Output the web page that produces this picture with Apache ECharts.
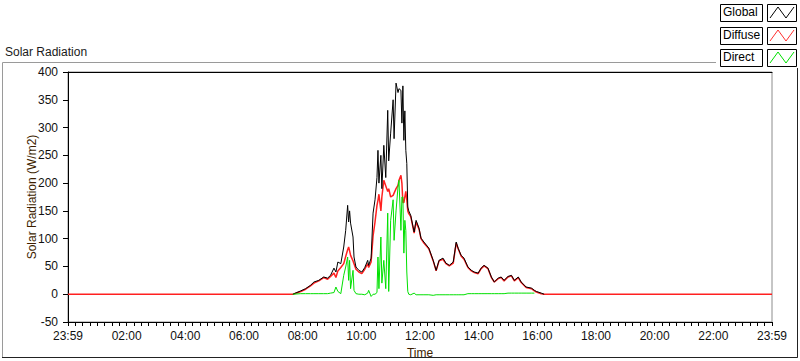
<!DOCTYPE html>
<html>
<head>
<meta charset="utf-8">
<script src="https://cdn.jsdelivr.net/npm/echarts@6/dist/echarts.min.js"></script>
<style>
  html, body { margin: 0; padding: 0; background: #fff; }
  #chart { width: 800px; height: 361px; }
</style>
</head>
<body>
<div id="chart"></div>
<script>
// sample times (one shared list for all three series)
const times = ["00:00","07:40","07:56","08:06","08:16","08:23","08:33","08:43","08:51","08:57",
  "09:04","09:08","09:12","09:18","09:24","09:28","09:32","09:34","09:36","09:38",
  "09:43","09:45","09:49","09:55","10:01","10:07","10:13","10:15","10:20","10:24",
  "10:28","10:32","10:34","10:36","10:40","10:42","10:46","10:50","10:54","10:56",
  "11:00","11:05","11:07","11:11","11:15","11:17","11:21","11:23","11:25","11:27",
  "11:29","11:31","11:33","11:35","11:37","11:41","11:48","11:52","11:58","12:02",
  "12:08","12:18","12:27","12:33","12:39","12:47","12:53","13:00","13:08","13:14",
  "13:18","13:24","13:30","13:38","13:45","13:51","13:59","14:05","14:11","14:19",
  "14:26","14:32","14:40","14:46","14:52","15:00","15:07","15:13","15:21","15:27",
  "15:37","15:48","15:54","15:58","16:08","16:14","24:00"];

const globalVals = [null,0,6,10,16,22,25,31,29,34,
  47,40,58,55,85,115,160,130,150,128,
  103,67,49,43,40,48,61,52,65,146,
  170,210,259,200,250,190,268,210,331,240,
  290,350,280,380,363,370,367,308,375,277,
  330,259,235,157,150,142,112,133,119,101,
  94,83,61,43,61,65,56,52,58,94,
  83,70,65,49,43,40,38,47,52,47,
  31,22,29,31,25,32,34,25,31,22,
  13,11,7,5,2,0,null];

const diffuseVals = [0,0,5,9,15,20,24,30,27,32,
  38,30,42,48,55,68,80,85,78,70,
  60,55,45,40,37,45,55,48,58,105,
  130,160,169,180,150,175,205,195,185,190,
  175,178,182,190,196,205,214,200,165,165,
  175,185,170,150,145,140,110,130,117,100,
  92,82,60,42,60,63,55,51,56,92,
  82,69,63,48,42,39,37,46,51,46,
  30,22,28,30,24,31,33,24,30,21,
  12,10,6,4,1,0,0];

const directVals = [null,0,1,1,1,1,1,1,1,2,
  3,13,5,1,34,49,67,25,61,10,
  43,7,1,0,0,-1,2,7,-4,0,
  0,3,67,10,103,20,61,10,146,5,
  133,170,97,150,193,205,115,175,175,74,
  133,115,40,5,0,-1,2,-1,-1,-1,
  -1,-1,-2,-1,-1,-1,-1,-1,-1,-1,
  -1,-1,-1,1,1,1,1,1,1,1,
  1,1,1,1,1,2,2,2,2,2,
  2,2,2,null,null,null,null];

const yTicks = { min: -50, max: 400, step: 50 };

const toMin = t => { const p = t.split(':'); return +p[0] * 60 + +p[1]; };
const pad = n => (n < 10 ? '0' : '') + n;
const pairs = vals => times.map((t, i) => [toMin(t), vals[i]]);

const chart = echarts.init(document.getElementById('chart'), null, { renderer: 'svg' });
const font = 'Liberation Sans, Arial, sans-serif';

chart.setOption({
  animation: false,
  backgroundColor: '#fff',
  grid: { left: 68, right: 28, top: 72, bottom: 39, outerBoundsMode: 'none',
    show: true, borderColor: '#8c8c8c', borderWidth: 1 },
  xAxis: [{
    type: 'value', min: 0, max: 1440, interval: 120,
    name: 'Time', nameLocation: 'middle', nameGap: 25, nameMoveOverlap: false,
    nameTextStyle: { color: '#3d1e00', fontSize: 12, fontFamily: font },
    axisLine: { onZero: false, lineStyle: { color: '#000' } },
    axisTick: { length: 4, lineStyle: { color: '#000' } },
    minorTick: { show: true, splitNumber: 8, length: 4, lineStyle: { color: '#000' } },
    splitLine: { show: false },
    axisLabel: {
      margin: 8, color: '#111', fontSize: 12, fontFamily: font,
      formatter: v => (v === 0 || v === 1440) ? '23:59' : pad(Math.floor(v / 60)) + ':' + pad(v % 60)
    }
  }, {
    type: 'value', min: 0, max: 1440, position: 'top',
    axisLine: { show: true, onZero: false, lineStyle: { color: '#000' } },
    axisTick: { show: false }, axisLabel: { show: false }, splitLine: { show: false }
  }],
  yAxis: {
    type: 'value', min: yTicks.min, max: yTicks.max, interval: yTicks.step,
    name: 'Solar Radiation (W/m2)', nameLocation: 'middle', nameGap: 30, nameMoveOverlap: false,
    nameTextStyle: { color: '#3d1e00', fontSize: 12, fontFamily: font },
    axisLine: { show: true, onZero: false, lineStyle: { color: '#000' } },
    axisTick: { show: true, length: 5, lineStyle: { color: '#000' } },
    splitLine: { show: false },
    axisLabel: { margin: 10, color: '#111', fontSize: 12, fontFamily: font }
  },
  series: [
    { name: 'Diffuse', type: 'line', data: pairs(diffuseVals), showSymbol: false,
      lineStyle: { color: '#ff2020', width: 1.5 }, z: 2 },
    { name: 'Global', type: 'line', data: pairs(globalVals), showSymbol: false,
      lineStyle: { color: '#000', width: 1 }, z: 3 },
    { name: 'Direct', type: 'line', data: pairs(directVals), showSymbol: false,
      lineStyle: { color: '#00e000', width: 1 }, z: 4 }
  ],
  graphic: [
    { type: 'rect', shape: { x: 2.5, y: 62.5, width: 795, height: 295 },
      style: { fill: 'none', stroke: '#9a9a9a', lineWidth: 1 } },
    { type: 'polyline', shape: { points: [[797.5, 62], [797.5, 357.5], [2, 357.5]] },
      style: { fill: null, stroke: '#222', lineWidth: 1 } },
    { type: 'text', left: 5, top: 46,
      style: { text: 'Solar Radiation', fill: '#1a1a1a', font: '12px ' + font } },
    { type: 'rect', shape: { x: 716, y: 0, width: 84, height: 68 }, style: { fill: '#fff' } },
    { type: 'group', children: [['Global', '#000', 4], ['Diffuse', '#ff3030', 27], ['Direct', '#00e000', 49]]
      .flatMap(([label, col, y]) => [
        { type: 'rect', shape: { x: 720.5, y: y + 0.5, width: 42, height: 17 },
          style: { fill: '#fff', stroke: '#000', lineWidth: 1 } },
        { type: 'text', x: 723, y: y + 2,
          style: { text: label, fill: '#000', font: '12px ' + font } },
        { type: 'rect', shape: { x: 767.5, y: y + 0.5, width: 29, height: 17 },
          style: { fill: '#fff', stroke: '#000', lineWidth: 1 } },
        { type: 'polyline', shape: { points: [[770, y + 14], [778, y + 3], [786, y + 14], [794, y + 3]] },
          style: { fill: null, stroke: col, lineWidth: 1 } }
      ]) }
  ]
});
</script>
</body>
</html>
